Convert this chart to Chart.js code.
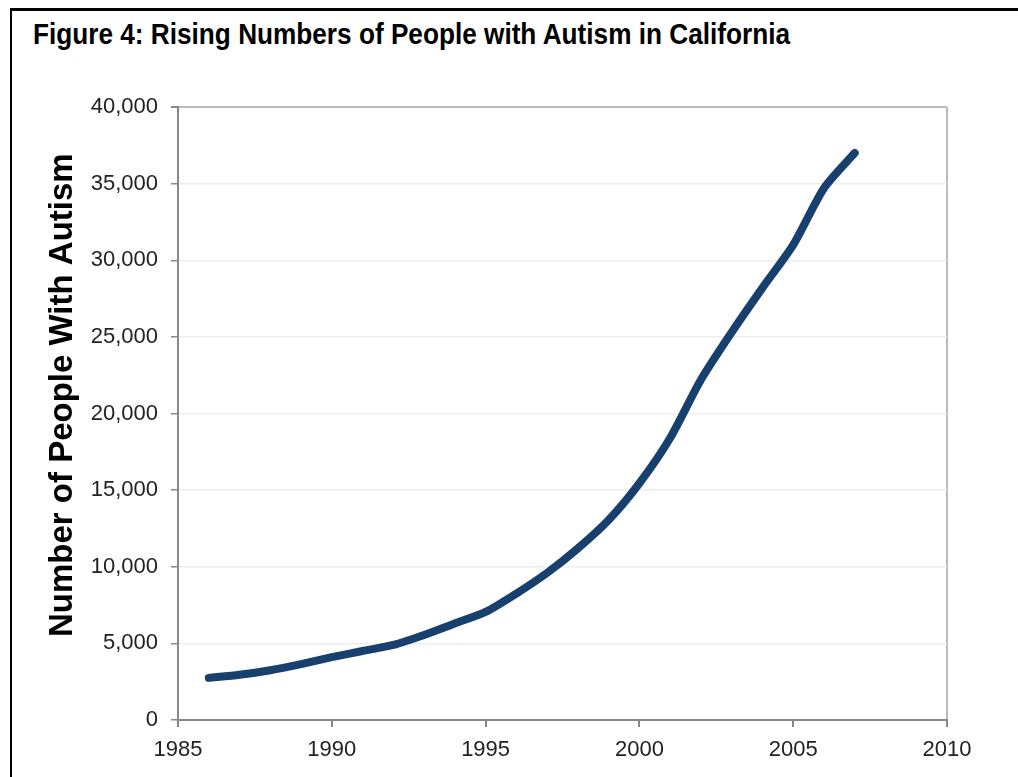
<!DOCTYPE html>
<html>
<head>
<meta charset="utf-8">
<script src="https://cdn.jsdelivr.net/npm/chart.js@4.4.1/dist/chart.umd.min.js"></script>
<style>
  body { margin: 0; background: #fff; width: 1018px; height: 777px; overflow: hidden; position: relative; }
  #frame { position: absolute; left: 10px; top: 8px; width: 1010px; height: 780px; border-left: 2px solid #000; border-top: 3px solid #000; }
  #title { position: absolute; left: 33px; top: 18px; font-family: "Liberation Sans Narrow", "Arial Narrow", "Liberation Sans", sans-serif; font-weight: bold; font-size: 29px; color: #000; white-space: nowrap; transform-origin: left top; }
  #chart { position: absolute; left: 0; top: 0; }
</style>
</head>
<body>
<div id="frame"></div>
<div id="title">Figure 4: Rising Numbers of People with Autism in California</div>
<canvas id="chart" width="1018" height="777"></canvas>
<script>
const years = [1986, 1987, 1988, 1989, 1990, 1991, 1992, 1993, 1994, 1995, 1996,
               1997, 1998, 1999, 2000, 2001, 2002, 2003, 2004, 2005, 2006, 2007];
const peopleWithAutism = [2750, 2950, 3250, 3650, 4100, 4500, 4900, 5550, 6300, 7050, 8250,
                          9600, 11200, 13050, 15450, 18400, 22200, 25300, 28200, 31000, 34700, 37000];
const xTicks = [1985, 1990, 1995, 2000, 2005, 2010];
const yTicks = [0, 5000, 10000, 15000, 20000, 25000, 30000, 35000, 40000];

// squeeze the title to the width it has in the original
const titleEl = document.getElementById('title');
const titleWidth = titleEl.getBoundingClientRect().width;
titleEl.style.transform = 'scaleX(' + (757 / titleWidth) + ')';

const points = years.map((y, i) => ({x: y, y: peopleWithAutism[i]}));

const data = {
    datasets: [{
        label: 'People with autism',
        data: points,
        borderColor: '#17406e',
        borderWidth: 8,
        borderCapStyle: 'round',
        borderJoinStyle: 'round',
        pointRadius: 0,
        tension: 0.25,
        fill: false
    }]
};

const tickFont = {family: 'Liberation Sans, Arial, sans-serif', size: 22};

const config = {
    type: 'line',
    data: data,
    options: {
        responsive: false,
        animation: false,
        devicePixelRatio: 1,
        layout: {
            padding: {left: 20, right: 71, top: 107, bottom: 0}
        },
        plugins: {
            legend: {display: false},
            tooltip: {enabled: false}
        },
        scales: {
            x: {
                type: 'linear',
                min: xTicks[0],
                max: xTicks[xTicks.length - 1],
                afterBuildTicks: scale => { scale.ticks = xTicks.map(v => ({value: v})); },
                afterFit: scale => { scale.height = 57; },
                ticks: {
                    callback: v => String(v),
                    color: '#222',
                    font: tickFont,
                    padding: 10,
                    maxRotation: 0
                },
                grid: {
                    color: ctx => (ctx.tick && ctx.tick.value === 2010) ? '#bbb' : 'rgba(0,0,0,0)',
                    lineWidth: 2,
                    tickColor: '#888',
                    tickLength: 7
                },
                border: {display: true, color: '#888', width: 2}
            },
            y: {
                min: yTicks[0],
                max: yTicks[yTicks.length - 1],
                afterBuildTicks: scale => { scale.ticks = yTicks.map(v => ({value: v})); },
                afterFit: scale => { scale.width = 158; },
                ticks: {
                    callback: v => v.toLocaleString('en-US'),
                    color: '#222',
                    font: tickFont,
                    padding: 13
                },
                grid: {
                    color: ctx => (ctx.tick && ctx.tick.value === 40000) ? '#bbb' : '#eee',
                    lineWidth: ctx => (ctx.tick && ctx.tick.value === 40000) ? 2 : 1.5,
                    tickColor: '#888',
                    tickLength: 7
                },
                border: {display: true, color: '#888', width: 2},
                title: {
                    display: true,
                    // leading spaces lift the label a little above the centre, as in the original
                    text: '    Number of People With Autism',
                    color: '#000',
                    font: {family: 'Liberation Sans, Arial, sans-serif', size: 33, weight: 'bold'},
                    padding: {top: 23, bottom: 0}
                }
            }
        }
    }
};

const ctx = document.getElementById('chart').getContext('2d');
const autismChart = new Chart(ctx, config);
</script>
</body>
</html>
